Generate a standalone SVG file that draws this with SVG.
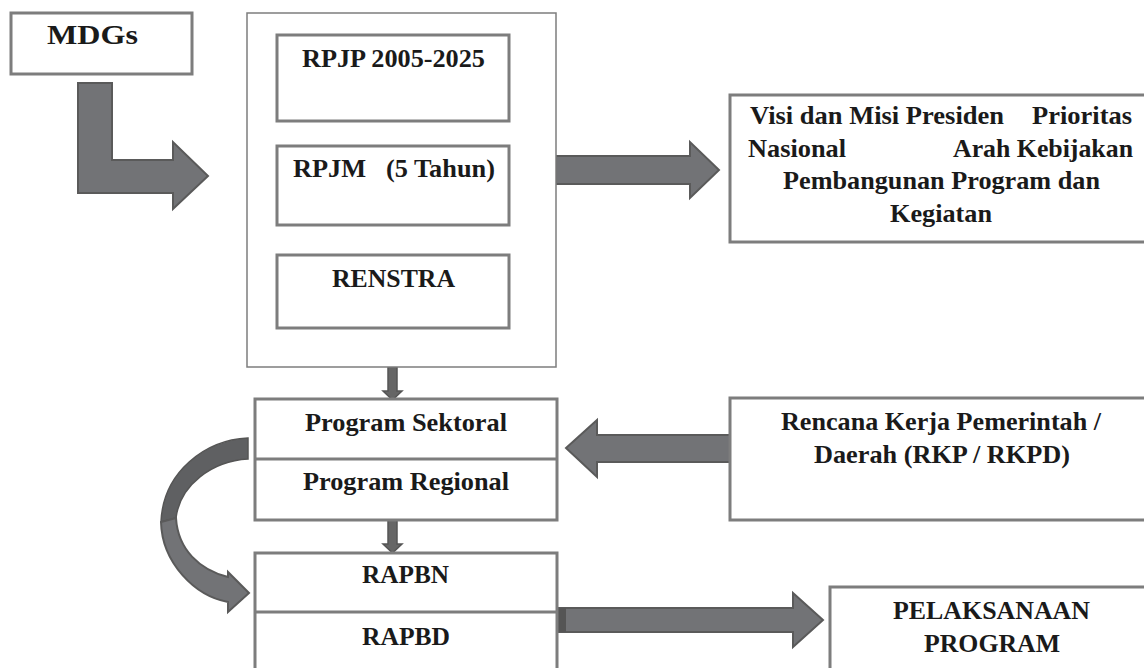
<svg xmlns="http://www.w3.org/2000/svg" width="1144" height="668" viewBox="0 0 1144 668">
<style>
.box{fill:#fff;stroke:#7d7d7d;stroke-width:3}
.outer{fill:#fff;stroke:#7d7d7d;stroke-width:1.5}
.div{stroke:#7d7d7d;stroke-width:3}
.t{font-family:"Liberation Serif","Times New Roman",serif;font-weight:bold;font-size:26px;fill:#1a1a1a}
.arr{fill:#727376;stroke:#5a5a5a;stroke-width:2;stroke-linejoin:miter}
.thin{stroke:#333;stroke-width:1.3;fill:none}
</style>
<defs>
<marker id="v" markerWidth="14" markerHeight="12" refX="7" refY="11" orient="auto-start-reverse" markerUnits="userSpaceOnUse" viewBox="0 0 14 12">
<path d="M1,1 L7,11 L13,1" fill="none" stroke="#333" stroke-width="1.3"/>
</marker>
</defs>

<g id="connectors">
<path class="arr" d="M78,83 L112,83 L112,160 L173,160 L173,142 L208,176 L173,209 L173,193 L78,193 Z"/>
<path class="arr" d="M556,156 L690,156 L690,142 L719,170 L690,198 L690,184 L556,184 Z"/>
<line class="thin" x1="373" y1="121" x2="373" y2="144" marker-end="url(#v)"/>
<line class="thin" x1="375" y1="225" x2="375" y2="247" marker-end="url(#v)"/>
<path class="arr" d="M388,367 L397,367 L397,391 L402,391 L392.5,400 L383,391 L388,391 Z" style="fill:#666;stroke:#555;stroke-width:1.5"/>
<path class="arr" d="M388,520 L397,520 L397,544 L402,544 L392.5,553 L383,544 L388,544 Z" style="fill:#666;stroke:#555;stroke-width:1.5"/>
<path class="arr" d="M730,435 L597,435 L597,420 L566,448 L597,477 L597,462 L730,462 Z"/>
<path class="arr" d="M556,608 L793,608 L793,593 L823,620 L793,647 L793,632 L556,632 Z"/>
<rect x="556" y="608" width="10" height="24" fill="#555"/>
<path d="M248,438 C205,440 163,472 161,522 L176,518 C180,485 212,461 248,459 Z" fill="#5f6062" stroke="#555" stroke-width="1.5"/>
<path class="arr" d="M161,522 C162,563 195,596 228,602 L228,612 L249,593 L228,572 L228,577 C200,570 178,550 176,518 Z"/>
</g>

<g id="mdgs">
<rect class="box" x="11" y="13" width="181" height="61"/>
<text class="t" x="47" y="44" textLength="91" lengthAdjust="spacingAndGlyphs" style="font-size:27px">MDGs</text>
</g>

<g id="rpjp-group">
<rect class="outer" x="247" y="13" width="309" height="354"/>
</g>
<g id="rpjp">
<rect class="box" x="277" y="35" width="232" height="86"/>
<text class="t" x="302" y="67" textLength="183" lengthAdjust="spacingAndGlyphs">RPJP 2005-2025</text>
</g>
<g id="rpjm">
<rect class="box" x="277" y="146" width="232" height="79"/>
<text class="t" x="293" y="177" textLength="202" lengthAdjust="spacingAndGlyphs" xml:space="preserve">RPJM   (5 Tahun)</text>
</g>
<g id="renstra">
<rect class="box" x="277" y="255" width="232" height="73"/>
<text class="t" x="332" y="287" textLength="123" lengthAdjust="spacingAndGlyphs">RENSTRA</text>
</g>

<g id="visi">
<rect class="box" x="730" y="95" width="424" height="147"/>
<text class="t" x="750" y="124" textLength="254" lengthAdjust="spacingAndGlyphs">Visi dan Misi Presiden</text>
<text class="t" x="1032" y="124" textLength="100" lengthAdjust="spacingAndGlyphs">Prioritas</text>
<text class="t" x="748" y="157" textLength="98" lengthAdjust="spacingAndGlyphs">Nasional</text>
<text class="t" x="953" y="157" textLength="180" lengthAdjust="spacingAndGlyphs">Arah Kebijakan</text>
<text class="t" x="783" y="189" textLength="317" lengthAdjust="spacingAndGlyphs">Pembangunan Program dan</text>
<text class="t" x="890" y="222" textLength="102" lengthAdjust="spacingAndGlyphs">Kegiatan</text>
</g>

<g id="program">
<rect class="box" x="255" y="399" width="302" height="121"/>
<line class="div" x1="255" y1="459" x2="557" y2="459"/>
<text class="t" x="305" y="431" textLength="202" lengthAdjust="spacingAndGlyphs">Program Sektoral</text>
<text class="t" x="303" y="490" textLength="206" lengthAdjust="spacingAndGlyphs">Program Regional</text>
</g>

<g id="rkp">
<rect class="box" x="730" y="398" width="424" height="122"/>
<text class="t" x="781" y="430" textLength="320" lengthAdjust="spacingAndGlyphs">Rencana Kerja Pemerintah /</text>
<text class="t" x="814" y="463" textLength="256" lengthAdjust="spacingAndGlyphs">Daerah (RKP / RKPD)</text>
</g>

<g id="rapbn">
<rect class="box" x="255" y="553" width="302" height="130"/>
<line class="div" x1="255" y1="612" x2="557" y2="612"/>
<text class="t" x="362" y="583" textLength="87" lengthAdjust="spacingAndGlyphs">RAPBN</text>
<text class="t" x="362" y="645" textLength="88" lengthAdjust="spacingAndGlyphs">RAPBD</text>
</g>

<g id="pelaksanaan">
<rect class="box" x="830" y="587" width="324" height="100"/>
<text class="t" x="893" y="619" textLength="197" lengthAdjust="spacingAndGlyphs">PELAKSANAAN</text>
<text class="t" x="924" y="652" textLength="136" lengthAdjust="spacingAndGlyphs">PROGRAM</text>
</g>
</svg>
